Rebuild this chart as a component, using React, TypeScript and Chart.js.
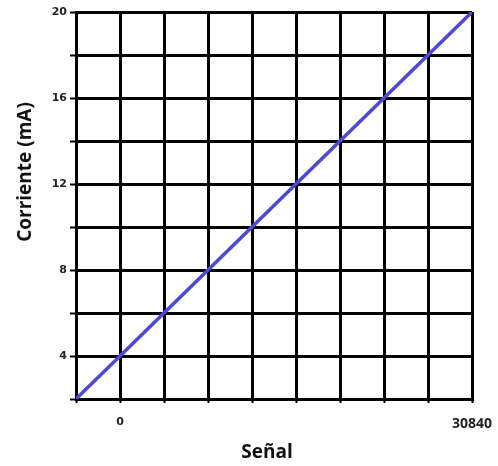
import React, { useEffect, useRef } from "react";
import { Chart, registerables } from "chart.js";

Chart.register(...registerables);

// Signal (x) values and current (y) values of the calibration line
const signalValues = [-3855, 0, 30840];
const currentValues = [2, 4, 20];
// x grid spacing (signal units per column) and labelled x ticks
const xStep = 3855;
const xMin = -3855;
const xMax = 30840;
const xLabelled = [0, 30840];
// y axis
const yMin = 2;
const yMax = 20;
const yStep = 2;
const yLabelled = [4, 8, 12, 16, 20];

const xTitle = "Señal";
const yTitle = "Corriente (mA)";

const titlePlugin = {
  id: "customTitles",
  afterDraw(chart: any) {
    const { ctx, chartArea } = chart;
    ctx.save();
    ctx.fillStyle = "#111";
    ctx.font = "bold 19px 'Open Sans', sans-serif";
    ctx.textAlign = "center";
    ctx.textBaseline = "middle";
    ctx.fillText(xTitle, chartArea.left + 191, chartArea.bottom + 54);
    ctx.translate(26, chartArea.top + 160);
    ctx.rotate(-Math.PI / 2);
    ctx.fillText(yTitle, 0, 0);
    ctx.restore();
  },
};

export default function App() {
  const ref = useRef<HTMLCanvasElement | null>(null);

  useEffect(() => {
    if (!ref.current) return;
    const chart = new Chart(ref.current, {
      type: "scatter",
      data: {
        datasets: [
          {
            data: signalValues.map((x, i) => ({ x, y: currentValues[i] })),
            showLine: true,
            borderColor: "#4a4ad6",
            borderWidth: 3.5,
            pointRadius: 0,
            tension: 0,
          },
        ],
      },
      options: {
        animation: false,
        responsive: false,
        layout: { padding: { top: 12, right: 26, left: 0, bottom: 0 } },
        plugins: {
          legend: { display: false },
          tooltip: { enabled: false },
        },
        scales: {
          x: {
            type: "linear",
            min: xMin,
            max: xMax,
            afterBuildTicks: (scale: any) => {
              const t = [];
              for (let v = xMin; v <= xMax + 1; v += xStep) t.push({ value: v });
              scale.ticks = t;
            },
            afterFit: (scale: any) => {
              scale.height = 67;
              scale.paddingLeft = 0;
              scale.paddingRight = 0;
            },
            grid: {
              color: "#000",
              lineWidth: 3,
              tickLength: 4,
              tickColor: "#000",
              tickWidth: 2,
            },
            border: { color: "#000", width: 3 },
            ticks: {
              autoSkip: false,
              maxRotation: 0,
              padding: 13,
              color: "#222",
              font: (ctx: any) =>
                ctx.tick && ctx.tick.value === xMax
                  ? { family: "'Open Sans', sans-serif", size: 14, weight: "bold" }
                  : { family: "'DejaVu Sans', sans-serif", size: 11, weight: "bold" },
              callback: (v: any) => (xLabelled.includes(Number(v)) ? String(v) : ""),
            },
          },
          y: {
            type: "linear",
            min: yMin,
            max: yMax,
            afterFit: (scale: any) => {
              scale.width = 76;
              scale.paddingTop = 0;
              scale.paddingBottom = 0;
            },
            grid: {
              color: "#000",
              lineWidth: 3,
              tickLength: 6,
              tickColor: "#000",
              tickWidth: 2,
            },
            border: { color: "#000", width: 3 },
            ticks: {
              stepSize: yStep,
              autoSkip: false,
              padding: 3,
              color: "#222",
              font: { family: "'DejaVu Sans', sans-serif", size: 11, weight: "bold" },
              callback: (v: any) => (yLabelled.includes(Number(v)) ? String(v) : ""),
            },
          },
        },
      },
      plugins: [titlePlugin],
    });
    return () => chart.destroy();
  }, []);

  return (
    <div style={{ position: "fixed", left: 0, top: 0, width: 498, height: 466, background: "#fff" }}>
      <canvas ref={ref} width={498} height={466} style={{ width: 498, height: 466, display: "block" }} />
    </div>
  );
}
